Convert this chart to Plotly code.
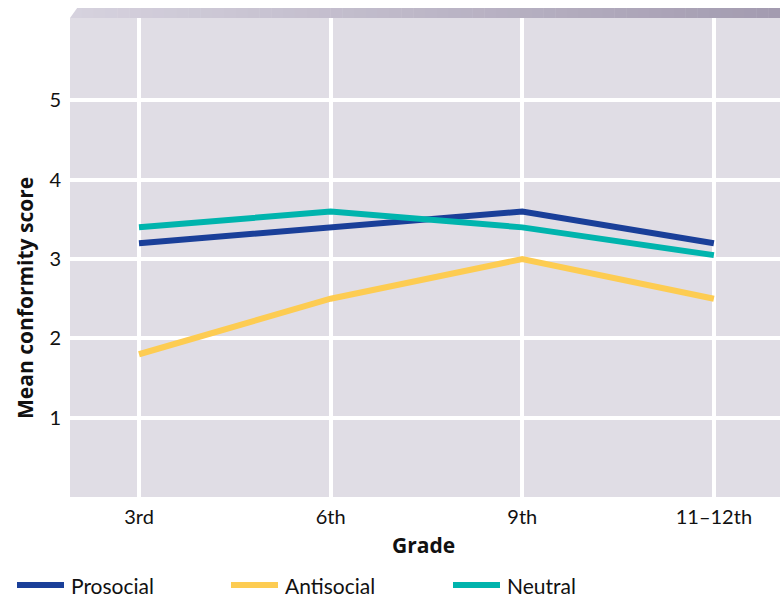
import plotly.graph_objects as go

grades = ["3rd", "6th", "9th", "11\u201312th"]
prosocial = [3.2, 3.4, 3.6, 3.2]
antisocial = [1.8, 2.5, 3.0, 2.5]
neutral = [3.4, 3.6, 3.4, 3.05]

series = [
    ("Prosocial", prosocial, "#1a3f99"),
    ("Antisocial", antisocial, "#fdcc52"),
    ("Neutral", neutral, "#00b4ad"),
]
draw_order = ["Antisocial", "Prosocial", "Neutral"]

FONT = "Lato"
TITLE_FONT = "Open Sans"
W, H = 780, 598
ML, MR, MT, MB = 70, 0, 18, 101
PW, PH = W - ML - MR, H - MT - MB

fig = go.Figure()
for name in draw_order:
    _, vals, col = next(s for s in series if s[0] == name)
    fig.add_trace(go.Scatter(
        x=list(range(len(grades))), y=vals, mode="lines", name=name,
        line=dict(color=col, width=6), showlegend=False,
    ))

shapes = []
# bevelled top edge with a left-to-right tint
n = 60
x0p, x1p = 70, 780
c0 = (214, 210, 222)
c1 = (163, 155, 176)
for i in range(n):
    a = x0p + (x1p - x0p) * i / n
    b = x0p + (x1p - x0p) * (i + 1) / n + 0.5
    t = i / (n - 1)
    col = "rgb(%d,%d,%d)" % tuple(round(c0[k] + (c1[k] - c0[k]) * t) for k in range(3))
    shapes.append(dict(
        type="rect", xref="paper", yref="paper",
        x0=(a - ML) / PW, x1=(b - ML) / PW,
        y0=1, y1=1 + 10 / PH,
        fillcolor=col, line=dict(width=0), layer="below",
    ))
# cut the left corner at an angle
shapes.append(dict(
    type="path", xref="paper", yref="paper",
    path="M 0 1 L 0 %f L %f %f Z" % (1 + 10.5 / PH, 7.5 / PW, 1 + 10.5 / PH),
    fillcolor="white", line=dict(width=0), layer="above",
))

# legend drawn below the axis title
legend_pos = [17, 231, 453]
ly = 585
annotations = []
for (name, _, col), lx in zip(series, legend_pos):
    shapes.append(dict(
        type="line", xref="paper", yref="paper",
        x0=(lx - ML) / PW, x1=(lx + 47 - ML) / PW,
        y0=(H - MB - ly) / PH, y1=(H - MB - ly) / PH,
        line=dict(color=col, width=6),
    ))
    annotations.append(dict(
        xref="paper", yref="paper", x=(lx + 52 - ML) / PW,
        y=(H - MB - ly) / PH, text=name, showarrow=False,
        xanchor="left", yanchor="middle", font=dict(family=FONT, size=21, color="#111"),
    ))

annotations.append(dict(
    xref="paper", yref="paper", x=(25 - ML) / PW,
    y=(H - MB - 298) / PH, text="<b>Mean conformity score</b>",
    textangle=-90, showarrow=False, xanchor="center", yanchor="middle",
    font=dict(family=TITLE_FONT, size=21, color="#111"),
))
annotations.append(dict(
    xref="paper", yref="paper", x=(423 - ML) / PW,
    y=(H - MB - 545) / PH, text="<b>Grade</b>",
    showarrow=False, xanchor="center", yanchor="middle",
    font=dict(family=TITLE_FONT, size=21, color="#111"),
))

fig.update_layout(
    width=W, height=H,
    margin=dict(l=ML, r=MR, t=MT, b=MB),
    paper_bgcolor="white", plot_bgcolor="#e0dde5",
    shapes=shapes, annotations=annotations, showlegend=False,
    font=dict(family=FONT, size=20, color="#111"),
)
fig.update_xaxes(
    tickvals=list(range(len(grades))), ticktext=grades, range=[-0.36, 3.345],
    showgrid=True, gridcolor="white", gridwidth=4, zeroline=False,
    showline=False, ticks="", ticklabelstandoff=6,
    tickfont=dict(family=FONT, size=20, color="#111"),
)
fig.update_yaxes(
    range=[0, 6.04], tickvals=[1, 2, 3, 4, 5],
    showgrid=True, gridcolor="white", gridwidth=4, zeroline=False,
    showline=False, ticks="", ticklabelstandoff=8,
    tickfont=dict(family=FONT, size=20, color="#111"),
)

fig.write_html("out.html")
